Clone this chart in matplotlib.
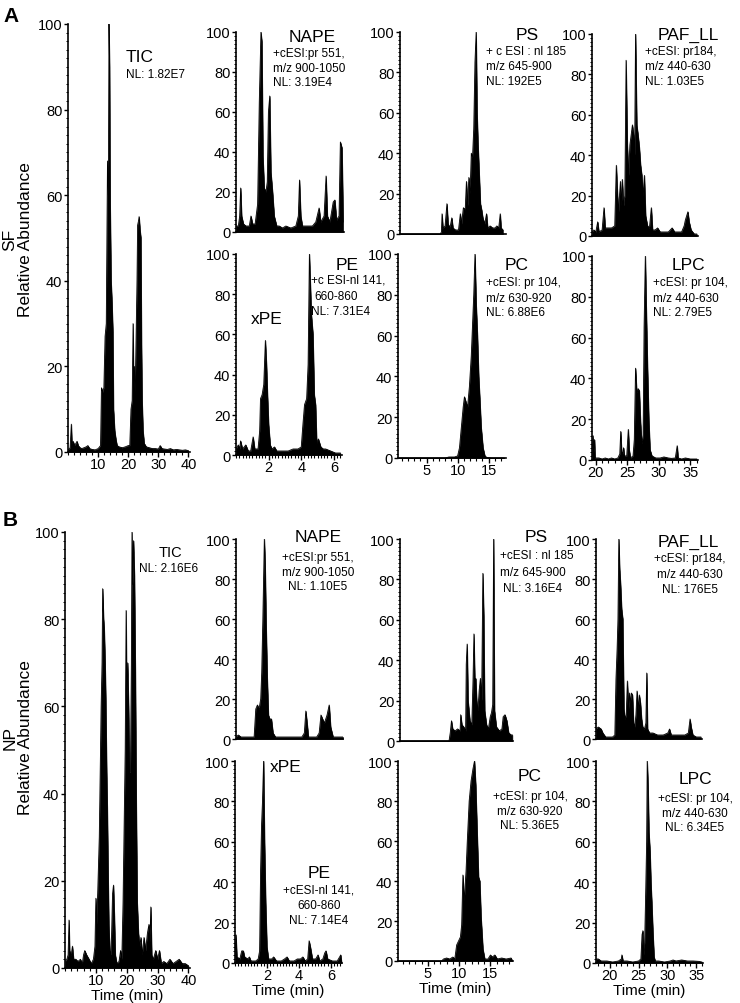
import matplotlib
matplotlib.use("Agg")
import matplotlib.pyplot as plt
from matplotlib.ticker import MultipleLocator, FixedLocator

plt.rcParams['font.family'] = ['Liberation Sans', 'DejaVu Sans']

# ---- chromatogram data: (time in min, relative abundance) ----
tic_a = [(0, 0.5), (0.7, 1), (1.1, 6.5), (1.3, 2), (1.7, 2.5), (2.2, 1.5), (2.6, 2), (3.0, 2.5), (3.4, 1.5),
         (4.0, 1), (4.6, 0.8), (5.3, 1), (6.0, 1.2), (6.6, 1.5), (7.2, 0.8), (8.0, 0.6), (9.0, 0.5),
         (10.0, 0.8), (10.8, 1.5), (11.1, 15), (11.5, 14), (11.9, 15), (12.3, 27), (12.7, 30), (13.1, 68),
         (13.4, 60), (13.6, 100), (13.8, 90), (14.0, 58), (14.3, 40), (14.6, 35), (14.9, 28), (15.1, 10),
         (15.5, 5), (15.9, 3), (16.3, 1.5), (17.0, 1.2), (18.0, 1), (19.0, 1.2), (20.0, 1.5), (20.5, 1.5),
         (20.9, 10), (21.3, 12), (21.6, 30), (21.8, 15), (22.0, 20), (22.3, 14), (22.6, 27), (22.9, 40),
         (23.1, 53), (23.4, 54), (23.6, 55), (23.9, 52), (24.2, 50), (24.4, 25), (24.6, 12), (24.9, 5),
         (25.3, 2), (26.0, 1.2), (27.0, 1), (28.0, 0.8), (29.0, 0.8), (30.0, 0.7), (30.6, 1.5), (31.2, 0.8),
         (32.0, 0.7), (33.0, 0.6), (34.0, 0.8), (35.0, 0.5), (36.0, 0.6), (37.0, 0.5), (38.0, 0.4),
         (39.0, 0.5), (40.0, 0.3)]
nape_a = [(0, 3), (0.14, 3), (0.22, 8), (0.28, 22), (0.34, 8), (0.45, 4), (0.6, 3), (0.8, 3), (0.9, 8),
          (1.0, 4), (1.15, 4), (1.3, 14), (1.4, 65), (1.5, 100), (1.56, 95), (1.62, 38), (1.7, 22), (1.8, 20),
          (1.88, 25), (1.95, 60), (2.03, 68), (2.1, 30), (2.2, 20), (2.3, 8), (2.45, 3), (2.6, 3), (2.8, 2),
          (3.0, 3), (3.3, 2), (3.6, 3), (3.75, 8), (3.82, 26), (3.9, 8), (4.0, 3), (4.3, 3), (4.6, 3),
          (4.8, 5), (5.0, 12), (5.1, 5), (5.3, 8), (5.42, 28), (5.5, 8), (5.65, 5), (5.85, 15), (5.95, 16),
          (6.05, 6), (6.2, 8), (6.28, 45), (6.38, 42), (6.45, 5)]
ps_a = [(0.5, 0), (7.0, 0), (7.2, 1), (7.3, 10), (7.45, 3), (7.8, 4), (8.1, 15), (8.3, 5), (8.6, 3),
        (8.9, 8), (9.1, 3), (9.5, 2), (10.0, 2), (10.3, 10), (10.5, 5), (10.8, 13), (11.1, 12), (11.3, 26),
        (11.5, 14), (11.7, 28), (11.9, 20), (12.1, 40), (12.3, 38), (12.5, 52), (12.7, 85), (12.9, 100),
        (13.05, 60), (13.2, 45), (13.4, 30), (13.6, 15), (13.8, 12), (14.0, 8), (14.3, 5), (14.6, 10),
        (14.8, 3), (15.2, 4), (15.6, 3), (16.0, 3), (16.3, 4), (16.6, 3), (16.85, 10), (17.0, 3), (17.3, 2)]
paf_a = [(19.4, 2), (19.7, 3), (20.0, 2), (20.3, 7), (20.5, 2), (21.0, 3), (21.3, 14), (21.5, 4), (22.0, 4),
         (22.5, 4), (23.0, 5), (23.25, 35), (23.45, 20), (23.6, 12), (23.9, 27), (24.05, 15), (24.2, 28),
         (24.4, 15), (24.6, 20), (24.8, 87), (25.0, 45), (25.2, 30), (25.4, 45), (25.6, 50), (25.8, 55),
         (26.0, 50), (26.15, 40), (26.3, 100), (26.5, 55), (26.7, 50), (26.9, 44), (27.1, 35), (27.3, 30),
         (27.5, 20), (27.7, 30), (27.9, 10), (28.2, 5), (28.5, 4), (28.8, 14), (29.0, 3), (29.4, 3),
         (29.8, 4), (30.2, 2), (30.8, 2), (31.5, 2), (32.1, 4), (32.5, 2), (33.0, 2), (33.6, 2), (34.0, 5),
         (34.2, 8), (34.6, 12), (34.8, 7), (35.1, 3), (35.6, 1), (36.0, 1)]
pe_a = [(0, 3), (0.14, 5), (0.22, 3), (0.28, 7), (0.4, 3), (0.6, 5), (0.75, 2), (0.9, 2), (1.05, 9),
        (1.15, 3), (1.35, 3), (1.45, 12), (1.5, 28), (1.6, 30), (1.7, 35), (1.8, 57), (1.87, 45), (1.93, 30),
        (2.0, 15), (2.1, 5), (2.2, 3), (2.36, 4), (2.5, 2), (2.8, 2), (3.2, 2), (3.5, 3), (3.8, 3), (4.0, 4),
        (4.1, 15), (4.2, 25), (4.33, 28), (4.42, 45), (4.5, 100), (4.56, 85), (4.62, 70), (4.72, 60),
        (4.8, 30), (4.88, 25), (4.95, 6), (5.05, 8), (5.2, 4), (5.35, 3), (5.5, 3), (5.8, 2), (6.1, 1),
        (6.4, 1)]
pc_a = [(0.5, 0), (8.0, 0), (8.6, 0.5), (9.5, 0.5), (10.0, 1), (10.3, 5), (10.6, 15), (10.9, 25), (11.1, 30),
        (11.3, 28), (11.6, 25), (11.9, 35), (12.2, 50), (12.4, 65), (12.6, 80), (12.8, 100), (13.0, 75),
        (13.2, 60), (13.4, 40), (13.6, 28), (13.8, 15), (14.1, 5), (14.4, 1), (14.7, 0.3), (15.5, 0),
        (17.5, 0)]
lpc_a = [(19.4, 2), (19.55, 12), (19.65, 4), (19.8, 10), (19.9, 1), (20.5, 1), (21.0, 0.5), (21.5, 1),
         (22.0, 0.5), (22.5, 1), (23.0, 0.5), (23.5, 1), (23.8, 3), (23.95, 14), (24.1, 4), (24.25, 3),
         (24.4, 6), (24.55, 2), (24.9, 2), (25.15, 15), (25.3, 5), (25.5, 1), (25.9, 2), (26.1, 10),
         (26.3, 45), (26.5, 33), (26.7, 35), (26.9, 34), (27.1, 18), (27.3, 8), (27.5, 12), (27.65, 65),
         (27.85, 100), (28.0, 75), (28.2, 45), (28.4, 20), (28.6, 5), (28.9, 2), (29.5, 1), (30.2, 1),
         (30.8, 1.5), (31.5, 1), (32.0, 0.8), (32.6, 1), (32.9, 7), (33.05, 1), (33.6, 0.5), (34.2, 1),
         (35.0, 0.5), (36.0, 0.5)]

tic_b = [(0, 1.5), (0.6, 2), (1.0, 3), (1.3, 11), (1.5, 4), (2.0, 3), (2.4, 5), (2.8, 2), (3.5, 2), (4.2, 1.5),
         (5.0, 2), (5.6, 1), (6.0, 3), (6.4, 4), (7.0, 3), (7.8, 2), (8.5, 1), (9.2, 2), (9.7, 5), (10.0, 16),
         (10.3, 10), (10.7, 20), (11.1, 30), (11.4, 45), (11.7, 60), (12.0, 70), (12.2, 87), (12.5, 80),
         (12.7, 78), (13.0, 70), (13.2, 62), (13.5, 45), (13.7, 37), (14.0, 20), (14.2, 10), (14.5, 4),
         (14.8, 3), (15.1, 8), (15.4, 17), (15.7, 19), (16.0, 12), (16.3, 3), (16.8, 1), (17.5, 1.5),
         (18.0, 4), (18.4, 2), (18.8, 15), (19.2, 35), (19.5, 50), (19.8, 82), (20.0, 62), (20.3, 70),
         (20.6, 60), (20.9, 45), (21.2, 45), (21.5, 70), (21.7, 100), (21.9, 88), (22.2, 98), (22.5, 90),
         (22.8, 68), (23.1, 37), (23.4, 15), (23.8, 8), (24.2, 5), (24.6, 7), (25.0, 3), (25.6, 7), (26.1, 4),
         (26.7, 8), (27.2, 10), (27.5, 6), (27.8, 14), (28.1, 3), (28.6, 2), (29.4, 4), (30.0, 2), (30.6, 4),
         (31.2, 1), (32.0, 1.5), (33.0, 1), (34.0, 2), (35.0, 1), (36.0, 1.5), (37.0, 2), (38.0, 1),
         (39.0, 1), (40.0, 0.5)]
nape_b = [(0, 1), (0.14, 2), (0.3, 1), (0.8, 1), (1.1, 1), (1.2, 15), (1.3, 17), (1.4, 15), (1.5, 20),
          (1.56, 33), (1.63, 60), (1.72, 100), (1.77, 88), (1.83, 57), (1.9, 30), (1.97, 12), (2.05, 10),
          (2.15, 10), (2.25, 3), (2.4, 1), (3.1, 1), (3.5, 1), (4.0, 1), (4.15, 3), (4.24, 14), (4.32, 8),
          (4.4, 1), (4.9, 1), (5.05, 3), (5.16, 12), (5.26, 10), (5.37, 8), (5.45, 10), (5.53, 12),
          (5.66, 17), (5.75, 6), (5.9, 1), (6.5, 1)]
ps_b = [(0.24, 0), (8.2, 0), (8.4, 4), (8.6, 10), (8.8, 6), (9.2, 5), (9.6, 6), (10.0, 5), (10.1, 13),
        (10.3, 8), (10.6, 7), (10.9, 5), (11.0, 38), (11.15, 48), (11.3, 20), (11.6, 10), (11.9, 8),
        (12.1, 30), (12.25, 53), (12.4, 30), (12.55, 31), (12.7, 20), (12.9, 15), (13.1, 25), (13.3, 31),
        (13.5, 20), (13.7, 83), (13.85, 62), (14.0, 15), (14.3, 8), (14.6, 6), (14.9, 12), (15.1, 14),
        (15.3, 18), (15.45, 100), (15.6, 15), (15.9, 7), (16.4, 5), (16.8, 6), (17.0, 12), (17.3, 13),
        (17.6, 10), (17.9, 4), (18.3, 3), (18.5, 3)]
paf_b = [(17.6, 5), (18.0, 6), (18.5, 5), (18.8, 3), (19.3, 1), (20.0, 1), (20.5, 1), (20.9, 2), (21.1, 30),
         (21.3, 45), (21.45, 60), (21.6, 100), (21.75, 85), (21.9, 78), (22.1, 65), (22.3, 60), (22.5, 15),
         (22.7, 10), (22.9, 12), (23.1, 29), (23.3, 15), (23.45, 23), (23.6, 18), (23.8, 23), (24.0, 22),
         (24.2, 8), (24.4, 6), (24.6, 12), (24.8, 24), (25.0, 15), (25.2, 22), (25.4, 18), (25.6, 10),
         (25.8, 6), (26.1, 5), (26.35, 8), (26.5, 33), (26.65, 5), (27.0, 3), (27.6, 3), (28.4, 2),
         (29.4, 2), (30.2, 3), (30.5, 5), (30.8, 2), (31.6, 2), (32.4, 2), (33.2, 2), (33.8, 3), (34.1, 10),
         (34.3, 6), (34.6, 2), (35.2, 1), (36.0, 1)]
pe_b = [(0, 3), (0.06, 14), (0.12, 3), (0.3, 2), (0.42, 6), (0.52, 6), (0.6, 3), (0.8, 2), (0.9, 3),
        (1.0, 1), (1.3, 1), (1.45, 2), (1.54, 6), (1.6, 45), (1.66, 68), (1.72, 80), (1.79, 100),
        (1.85, 60), (1.92, 30), (2.0, 8), (2.1, 2), (2.3, 2), (2.42, 3), (2.6, 1), (2.9, 1), (3.1, 2),
        (3.26, 3), (3.4, 1), (3.7, 1), (3.9, 2), (4.1, 2), (4.25, 3), (4.4, 1), (4.55, 2), (4.64, 11),
        (4.72, 8), (4.85, 2), (5.05, 2), (5.2, 4), (5.3, 1), (5.5, 2), (5.62, 5), (5.7, 6), (5.8, 2),
        (6.1, 1), (6.4, 1), (6.55, 3), (6.62, 4), (6.68, 0)]
pc_b = [(0.24, 0), (7.2, 0), (7.5, 1), (8.0, 1.5), (8.5, 1), (9.0, 2), (9.3, 1), (9.6, 8), (9.9, 10),
        (10.2, 12), (10.4, 18), (10.6, 43), (10.8, 30), (11.1, 45), (11.3, 60), (11.6, 80), (11.9, 90),
        (12.2, 96), (12.45, 100), (12.65, 88), (12.9, 62), (13.1, 42), (13.3, 40), (13.5, 22), (13.8, 6),
        (14.1, 1), (14.6, 1), (15.0, 3), (15.3, 2), (15.7, 3), (16.1, 1), (16.8, 1.5), (17.5, 1),
        (18.3, 1.5), (18.5, 0)]
lpc_b = [(17.6, 2), (18.0, 2), (18.5, 1), (19.5, 1), (20.5, 0.5), (21.5, 1), (22.0, 2), (22.1, 4),
         (22.3, 1), (23.0, 1), (24.0, 0.5), (25.0, 1), (25.4, 2), (25.6, 14), (25.75, 16), (25.9, 4),
         (26.05, 10), (26.2, 30), (26.4, 60), (26.5, 100), (26.65, 88), (26.8, 65), (27.0, 55), (27.15, 40),
         (27.3, 30), (27.5, 15), (27.7, 3), (27.9, 1), (28.5, 1), (29.5, 0.5), (30.5, 1), (31.0, 1.5),
         (31.5, 1), (32.5, 1.5), (33.5, 1), (34.5, 1), (35.5, 0.8), (36.0, 0.5)]

W, H = 740, 1004
fig = plt.figure(figsize=(W / 100, H / 100), dpi=100)


def add_ax(l, t, r, b):
    return fig.add_axes([l / W, 1 - b / H, (r - l) / W, (b - t) / H])


def ftext(x, y, s, **kw):
    kw.setdefault('ha', 'left')
    kw.setdefault('va', 'center')
    fig.text(x / W, 1 - y / H, s, **kw)


def chrom(ax, data, xlim, xmajor=None, xminor=None):
    t = [p[0] for p in data]
    v = [p[1] for p in data]
    ax.fill_between(t, v, 0, color='black', lw=0.4)
    ax.plot(t, v, color='black', lw=0.6)
    ax.set_xlim(*xlim)
    ax.set_ylim(0, 100)
    for s in ['top', 'right']:
        ax.spines[s].set_visible(False)
    for s in ['left', 'bottom']:
        ax.spines[s].set_linewidth(1.2)
    ax.yaxis.set_major_locator(FixedLocator([0, 20, 40, 60, 80, 100]))
    ax.yaxis.set_minor_locator(MultipleLocator(2))
    ax.tick_params(axis='y', which='major', length=3, width=1, labelsize=10.5, pad=1)
    ax.tick_params(axis='y', which='minor', length=1.8, width=0.7)
    if xmajor is None:
        ax.tick_params(axis='x', which='both', bottom=False, labelbottom=False)
    else:
        ax.xaxis.set_major_locator(FixedLocator(xmajor))
        ax.xaxis.set_minor_locator(MultipleLocator(xminor))
        ax.tick_params(axis='x', which='major', length=3.5, width=1, labelsize=10.5, pad=0)
        ax.tick_params(axis='x', which='minor', length=2.5, width=0.8)
    return ax


def time_label(ax):
    ax.set_xlabel('Time (min)', fontsize=11, labelpad=0.5)


tic_lim = (0, 40.5)
pe_lim = (0, 6.5)
pc_lim = (0.4, 17.8)
lpc_lim_a = (19.4, 36.2)
lpc_lim_b = (17.6, 36.2)

# ---- panel A (SF) ----
chrom(add_ax(68, 25, 190, 453), tic_a, tic_lim, [10, 20, 30, 40], 2)
chrom(add_ax(236, 33, 344, 233), nape_a, pe_lim)
chrom(add_ax(400, 33, 506, 235), ps_a, pc_lim)
chrom(add_ax(592, 35, 698, 237), paf_a, lpc_lim_a)
chrom(add_ax(236, 255, 342, 456), pe_a, pe_lim, [2, 4, 6], 0.2)
chrom(add_ax(398, 255, 506, 459), pc_a, pc_lim, [5, 10, 15], 1)
chrom(add_ax(592, 257, 698, 461), lpc_a, lpc_lim_a, [20, 25, 30, 35], 1)

# ---- panel B (NP) ----
time_label(chrom(add_ax(65, 533, 190, 969), tic_b, tic_lim, [10, 20, 30, 40], 2))
chrom(add_ax(236, 540, 343, 740), nape_b, pe_lim)
chrom(add_ax(400, 540, 513, 742), ps_b, (0.24, 18.6))
chrom(add_ax(596, 540, 702, 740), paf_b, lpc_lim_b)
time_label(chrom(add_ax(235, 762, 342, 964), pe_b, (0, 6.7), [2, 4, 6], 0.2))
time_label(chrom(add_ax(398, 762, 513, 962), pc_b, (0.24, 18.6), [5, 10, 15], 1))
time_label(chrom(add_ax(596, 762, 703, 964), lpc_b, lpc_lim_b, [20, 25, 30, 35], 1))

# ---- labels and annotations ----
big = 12.5
small = 8.5
ftext(3, 17, 'A', fontsize=15, fontweight='bold')
ftext(3, 520, 'B', fontsize=15, fontweight='bold')
ftext(10, 240, 'SF', rotation=90, ha='center', fontsize=12.5)
ftext(26, 240, 'Relative Abundance', rotation=90, ha='center', fontsize=12.5)
ftext(10, 738, 'NP', rotation=90, ha='center', fontsize=12.5)
ftext(26, 738, 'Relative Abundance', rotation=90, ha='center', fontsize=12.5)

ftext(126, 58, 'TIC', fontsize=big)
ftext(126, 75, 'NL: 1.82E7', fontsize=small)
ftext(312, 37, 'NAPE', fontsize=big, ha='center')
ftext(273, 54, '+cESI:pr 551,', fontsize=small)
ftext(273, 69, 'm/z 900-1050', fontsize=small)
ftext(273, 83, 'NL: 3.19E4', fontsize=small)
ftext(527, 35, 'PS', fontsize=big, ha='center')
ftext(486, 52, '+ c ESI : nl 185', fontsize=small)
ftext(486, 67, 'm/z 645-900', fontsize=small)
ftext(486, 82, 'NL: 192E5', fontsize=small)
ftext(688, 35, 'PAF_LL', fontsize=big, ha='center')
ftext(645, 52, '+cESI: pr184,', fontsize=small)
ftext(645, 67, 'm/z 440-630', fontsize=small)
ftext(645, 82, 'NL: 1.03E5', fontsize=small)
ftext(347, 266, 'PE', fontsize=big, ha='center')
ftext(311, 281, '+c ESI-nl 141,', fontsize=small)
ftext(314, 297, '660-860', fontsize=small)
ftext(311, 312, 'NL: 7.31E4', fontsize=small)
ftext(267, 320, 'xPE', fontsize=big, ha='center')
ftext(517, 265, 'PC', fontsize=big, ha='center')
ftext(486, 283, '+cESI: pr 104,', fontsize=small)
ftext(486, 299, 'm/z 630-920', fontsize=small)
ftext(486, 313, 'NL: 6.88E6', fontsize=small)
ftext(688, 265, 'LPC', fontsize=big, ha='center')
ftext(653, 283, '+cESI: pr 104,', fontsize=small)
ftext(653, 299, 'm/z 440-630', fontsize=small)
ftext(653, 313, 'NL: 2.79E5', fontsize=small)

ftext(170, 553, 'TIC', fontsize=10.5, ha='center')
ftext(169, 569, 'NL: 2.16E6', fontsize=small, ha='center')
ftext(318, 538, 'NAPE', fontsize=big, ha='center')
ftext(318, 558, '+cESI:pr 551,', fontsize=small, ha='center')
ftext(318, 573, 'm/z 900-1050', fontsize=small, ha='center')
ftext(318, 587, 'NL: 1.10E5', fontsize=small, ha='center')
ftext(536, 538, 'PS', fontsize=big, ha='center')
ftext(500, 556, '+cESI : nl 185', fontsize=small)
ftext(500, 573, 'm/z 645-900', fontsize=small)
ftext(503, 589, 'NL: 3.16E4', fontsize=small)
ftext(688, 542, 'PAF_LL', fontsize=big, ha='center')
ftext(690, 559, '+cESI: pr184,', fontsize=small, ha='center')
ftext(690, 575, 'm/z 440-630', fontsize=small, ha='center')
ftext(690, 590, 'NL: 176E5', fontsize=small, ha='center')
ftext(270, 768, 'xPE', fontsize=big)
ftext(319, 874, 'PE', fontsize=big, ha='center')
ftext(319, 891, '+cESI-nl 141,', fontsize=small, ha='center')
ftext(319, 906, '660-860', fontsize=small, ha='center')
ftext(319, 921, 'NL: 7.14E4', fontsize=small, ha='center')
ftext(530, 777, 'PC', fontsize=big, ha='center')
ftext(530, 797, '+cESI: pr 104,', fontsize=small, ha='center')
ftext(530, 812, 'm/z 630-920', fontsize=small, ha='center')
ftext(530, 826, 'NL: 5.36E5', fontsize=small, ha='center')
ftext(695, 780, 'LPC', fontsize=big, ha='center')
ftext(695, 799, '+cESI: pr 104,', fontsize=small, ha='center')
ftext(695, 814, 'm/z 440-630', fontsize=small, ha='center')
ftext(695, 828, 'NL: 6.34E5', fontsize=small, ha='center')

fig.savefig('out.png', dpi=100)
